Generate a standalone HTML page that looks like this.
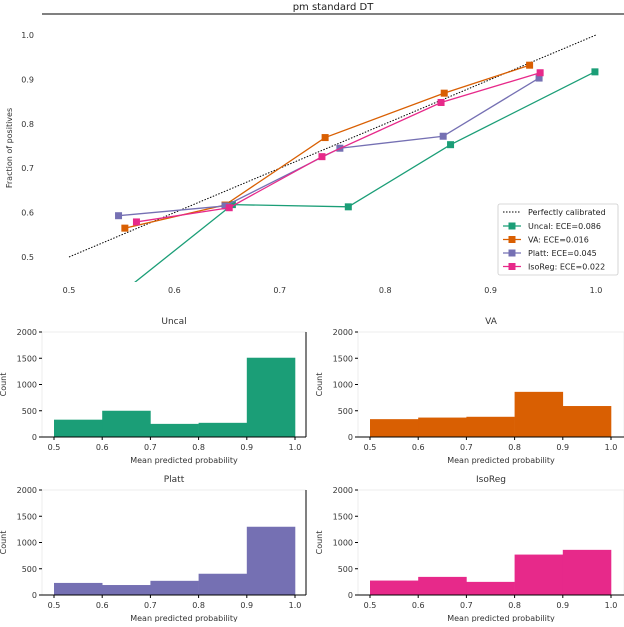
<!DOCTYPE html>
<html><head><meta charset="utf-8"><style>
body{margin:0;background:#fff;width:624px;height:622px;overflow:hidden}
svg{font-family:"DejaVu Sans","Liberation Sans",sans-serif}
</style></head><body>
<svg id="s" width="624" height="622" viewBox="0 0 624 622"></svg>
<script>
const calX=[0.5,0.6,0.7,0.8,0.9,1.0];
const calY=[0.5,0.6,0.7,0.8,0.9,1.0];
const seriesNames=["Uncal: ECE=0.086","VA: ECE=0.016","Platt: ECE=0.045","IsoReg: ECE=0.022"];
const colors=["#1b9e77","#d95f02","#7570b3","#e7298a"];
const uncalX=[0.545,0.655,0.765,0.862,0.999];
const uncalY=[0.41,0.618,0.613,0.753,0.917];
const vaX=[0.553,0.648,0.743,0.856,0.937];
const vaY=[0.565,0.617,0.769,0.869,0.932];
const plattX=[0.547,0.648,0.757,0.855,0.946];
const plattY=[0.593,0.615,0.745,0.772,0.903];
const isoX=[0.564,0.652,0.740,0.853,0.947];
const isoY=[0.579,0.611,0.726,0.848,0.915];
const histEdges=[0.5,0.6,0.7,0.8,0.9,1.0];
const histTicks=[0,500,1000,1500,2000];
const uncalCounts=[330,500,250,270,1510];
const vaCounts=[340,370,385,860,590];
const plattCounts=[230,190,270,405,1300];
const isoCounts=[275,345,250,770,860];

const S=document.getElementById('s');const NS='http://www.w3.org/2000/svg';
function el(t,a,txt){const e=document.createElementNS(NS,t);for(const k in a)e.setAttribute(k,a[k]);if(txt!==undefined)e.textContent=txt;S.appendChild(e);return e;}
// main
const px=v=>69+(v-0.5)*1054, py=v=>257-(v-0.5)*444;
let t=el('text',{x:333,y:10,'font-size':10,'text-anchor':'middle',fill:'#222'},'pm standard DT');

let c=el('clipPath',{id:'cp'});const r=document.createElementNS(NS,'rect');r.setAttribute('x',42);r.setAttribute('y',14);r.setAttribute('width',582);r.setAttribute('height',268);c.appendChild(r);
let ax=el('line',{x1:42,y1:14,x2:624,y2:14,stroke:'#000','stroke-width':1});

calX.forEach(v=>{let e=el('text',{x:px(v),y:293,'font-size':8,'text-anchor':'middle',fill:'#333'},v.toFixed(1));});
calY.forEach(v=>{let e=el('text',{x:34,y:py(v)+3,'font-size':8,'text-anchor':'end',fill:'#333'},v.toFixed(1));});
t=el('text',{x:0,y:0,'font-size':8,'text-anchor':'middle',fill:'#333',transform:'translate(12,148) rotate(-90)'},'Fraction of positives');

let d=el('line',{x1:px(0.5),y1:py(0.5),x2:px(1),y2:py(1),stroke:'#000','stroke-width':1,'stroke-dasharray':'1.5,1.5','clip-path':'url(#cp)'});

[[uncalX,uncalY],[vaX,vaY],[plattX,plattY],[isoX,isoY]].forEach((s,i)=>{
 const pts=s[0].map((x,j)=>px(x)+','+py(s[1][j])).join(' ');
 let l=el('polyline',{points:pts,fill:'none',stroke:colors[i],'stroke-width':1.3,'clip-path':'url(#cp)'});
 
 s[0].forEach((x,j)=>{let m=el('rect',{x:px(x)-3.5,y:py(s[1][j])-3.5,width:7,height:7,fill:colors[i],'clip-path':'url(#cp)'});});
});
let lg=el('rect',{x:498,y:204,width:120,height:71,fill:'#fff',stroke:'#ccc','stroke-width':0.8,rx:2});

el('line',{x1:503,y1:212,x2:521,y2:212,stroke:'#000','stroke-dasharray':'1.5,1.5'});
t=el('text',{x:528,y:215,'font-size':8,fill:'#222'},'Perfectly calibrated');
seriesNames.forEach((n,i)=>{const y=226+i*13.5;
 el('line',{x1:503,y1:y,x2:521,y2:y,stroke:colors[i],'stroke-width':1.3});
 el('rect',{x:508.5,y:y-3.5,width:7,height:7,fill:colors[i]});
 let e=el('text',{x:528,y:y+3,'font-size':8,fill:'#222'},n);});
// histograms
const H=[["Uncal",uncalCounts,42,306,54,295,332,437],["VA",vaCounts,358,624,370,611,332,437],["Platt",plattCounts,42,306,54,295,490,595],["IsoReg",isoCounts,358,624,370,611,490,595]];
H.forEach((h,i)=>{const [name,cnt,L,R,x0,x1,T,B]=h;
 const hx=v=>x0+(v-0.5)*(x1-x0)/0.5, hy=v=>B-v*(B-T)/2000;
 let tt=el('text',{x:(L+R)/2,y:T-8,'font-size':9,'text-anchor':'middle',fill:'#333'},name);
 el('line',{x1:L,y1:T,x2:R,y2:T,stroke:'#eee'});
 el('line',{x1:L,y1:T,x2:L,y2:B,stroke:'#eee'});
 el('line',{x1:R,y1:T,x2:R,y2:B,stroke:i%2?'#eee':'#000'});
 cnt.forEach((v,j)=>{let b=el('rect',{x:hx(histEdges[j]),y:hy(v),width:hx(histEdges[j+1])-hx(histEdges[j])+0.3,height:B-hy(v),fill:colors[i]});});
 el('line',{x1:L,y1:B,x2:R,y2:B,stroke:'#000'});
 histTicks.forEach(v=>{el('line',{x1:L-3,y1:hy(v),x2:L,y2:hy(v),stroke:'#000'});let e=el('text',{x:L-5,y:hy(v)+3,'font-size':8,'text-anchor':'end',fill:'#333'},v);});
 histEdges.forEach(v=>{el('line',{x1:hx(v),y1:B,x2:hx(v),y2:B+3,stroke:'#000'});let e=el('text',{x:hx(v),y:B+13,'font-size':8,'text-anchor':'middle',fill:'#333'},v.toFixed(1));});
 let xl=el('text',{x:(L+R)/2+10,y:B+26,'font-size':8,'text-anchor':'middle',fill:'#333'},'Mean predicted probability');
 let yl=el('text',{x:0,y:0,'font-size':8,'text-anchor':'middle',fill:'#333',transform:`translate(${i%2?322:6},${(T+B)/2}) rotate(-90)`},'Count');
});
</script>
</body></html>
